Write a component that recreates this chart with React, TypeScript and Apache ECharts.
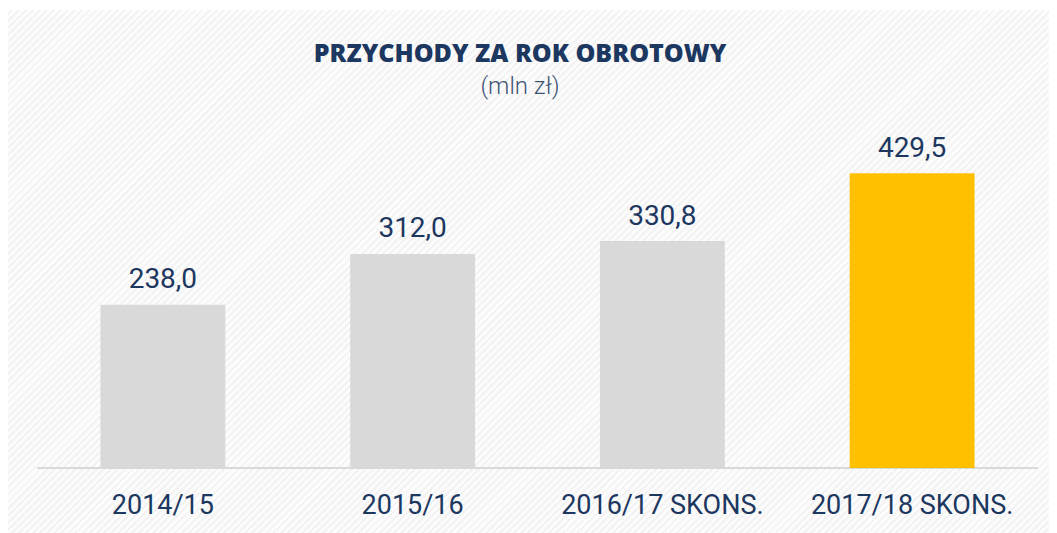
import React, { useEffect, useRef } from "react";
import * as echarts from "echarts";

const categories = ["2014/15", "2015/16", "2016/17 SKONS.", "2017/18 SKONS."];
const values = [238.0, 312.0, 330.8, 429.5];
const highlightIndex = 3;
const titleText = "PRZYCHODY ZA ROK OBROTOWY";
const subtitleText = "(mln zł)";

const NAVY = "#1c3760";

export default function App() {
  const ref = useRef<HTMLDivElement>(null);
  useEffect(() => {
    if (!ref.current) return;
    const chart = echarts.init(ref.current, null, { renderer: "svg" });
    chart.setOption({
      animation: false,
      backgroundColor: "transparent",
      graphic: [
        {
          type: "text",
          x: 512,
          y: 42,
          style: {
            text: titleText,
            fill: NAVY,
            font: "800 25px 'Open Sans'",
            textAlign: "center",
            textVerticalAlign: "middle",
          },
        },
        {
          type: "text",
          x: 512,
          y: 76,
          style: {
            text: subtitleText,
            fill: "#3f5475",
            font: "300 24px Roboto",
            textAlign: "center",
            textVerticalAlign: "middle",
          },
        },
      ],
      grid: { left: 30, right: 20, top: 115, bottom: 65, containLabel: false },
      xAxis: {
        type: "category",
        data: categories,
        axisLine: { lineStyle: { color: "#d9d9d9", width: 2 } },
        axisTick: { show: false },
        axisLabel: {
          interval: 0,
          color: NAVY,
          fontFamily: "Roboto",
          fontSize: 27,
          margin: 23,
        },
      },
      yAxis: {
        type: "value",
        min: 0,
        max: 500,
        show: false,
        splitLine: { show: false },
      },
      series: [
        {
          type: "bar",
          barWidth: "50%",
          data: values.map((v, i) => ({
            value: v,
            itemStyle: { color: i === highlightIndex ? "#ffc000" : "#d9d9d9" },
          })),
          label: {
            show: true,
            position: "top",
            distance: 12,
            color: NAVY,
            fontFamily: "Roboto",
            fontSize: 28,
            formatter: (p: any) => p.value.toFixed(1).replace(".", ","),
          },
        },
      ],
    });
    return () => chart.dispose();
  }, []);
  return (
    <div
      ref={ref}
      style={{
        width: 1049,
        height: 523,
        marginTop: 2,
        background:
          "repeating-linear-gradient(-45deg, #fcfcfc 0px, #fcfcfc 3px, #f3f3f3 3px, #f3f3f3 5px)",
      }}
    />
  );
}
